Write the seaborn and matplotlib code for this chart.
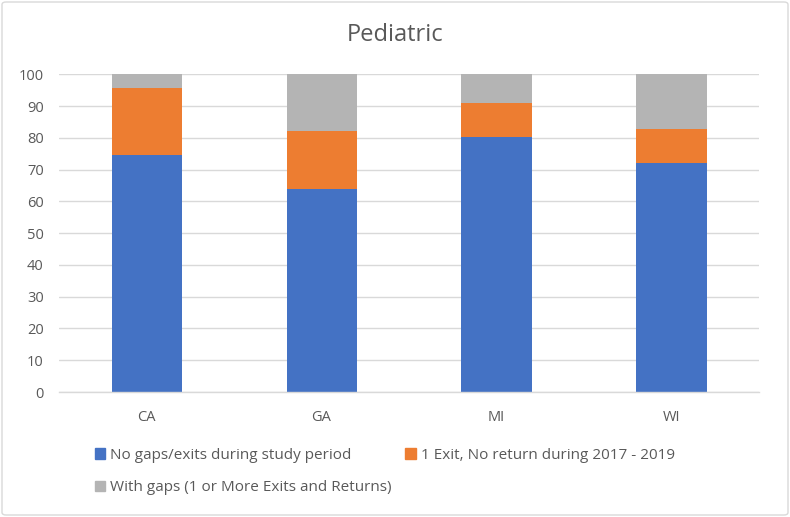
import matplotlib
matplotlib.use("Agg")
import matplotlib.pyplot as plt
import seaborn as sns
import numpy as np
from matplotlib.patches import Rectangle, FancyBboxPatch

states = ["CA", "GA", "MI", "WI"]
no_gaps = [74.6, 64.0, 80.4, 72.0]
one_exit = [21.0, 18.2, 10.6, 10.8]
with_gaps = [4.4, 17.8, 9.0, 17.2]
series_names = ["No gaps/exits during study period",
                "1 Exit, No return during 2017 - 2019",
                "With gaps (1 or More Exits and Returns)"]
colors = ["#4472C4", "#ED7D31", "#B4B4B4"]

sns.set_theme(style="white")
plt.rcParams['font.family'] = ['Open Sans', 'DejaVu Sans']

fig = plt.figure(figsize=(7.9, 5.17), dpi=100)
ax = fig.add_axes([59/790, 1-392/517, 700/790, (392-74.3)/517])

b1 = np.array(no_gaps)
b2 = b1 + np.array(one_exit)
sns.barplot(x=states, y=no_gaps, color=colors[0], width=0.4, ax=ax, saturation=1, linewidth=0)
sns.barplot(x=states, y=one_exit, bottom=b1, color=colors[1], width=0.4, ax=ax, saturation=1, linewidth=0)
sns.barplot(x=states, y=with_gaps, bottom=b2, color=colors[2], width=0.4, ax=ax, saturation=1, linewidth=0)

ax.set_ylim(0, 100)
ax.set_xlim(-0.5, 3.5)
ax.set_yticks(range(0, 101, 10))
ax.yaxis.grid(True, color="#D9D9D9", linewidth=1)
ax.set_axisbelow(True)
for s in ["top", "right", "left"]:
    ax.spines[s].set_visible(False)
ax.spines["bottom"].set_color("#D9D9D9")
ax.spines["bottom"].set_linewidth(1)
ax.tick_params(axis="both", length=0, colors="#595959", labelsize=10.5)
ax.tick_params(axis="x", pad=13)
ax.tick_params(axis="y", pad=11)
ax.set_xlabel("")
ax.set_ylabel("")

fig.text(0.5, 1-35/517, "Pediatric", ha="center", va="center", fontsize=17, color="#595959")

handles = [Rectangle((0, 0), 1, 1, color=colors[0]),
           Rectangle((0, 0), 1, 1, color=colors[2]),
           Rectangle((0, 0), 1, 1, color=colors[1])]
labels = [series_names[0], series_names[2], series_names[1]]
fig.legend(handles, labels, ncol=2, frameon=False, loc="upper left",
           bbox_to_anchor=(81/790, 1-434/517), handlelength=0.7, handleheight=0.7,
           handletextpad=0.3, columnspacing=0.9, labelspacing=1.15,
           fontsize=11, labelcolor="#595959")

border = FancyBboxPatch((2/790, 2/517), 786/790, 513/517, boxstyle="round,pad=0,rounding_size=0.005",
                        transform=fig.transFigure, fill=False, edgecolor="#D9D9D9", linewidth=1)
fig.patches.append(border)

fig.savefig("out.png", dpi=100)
